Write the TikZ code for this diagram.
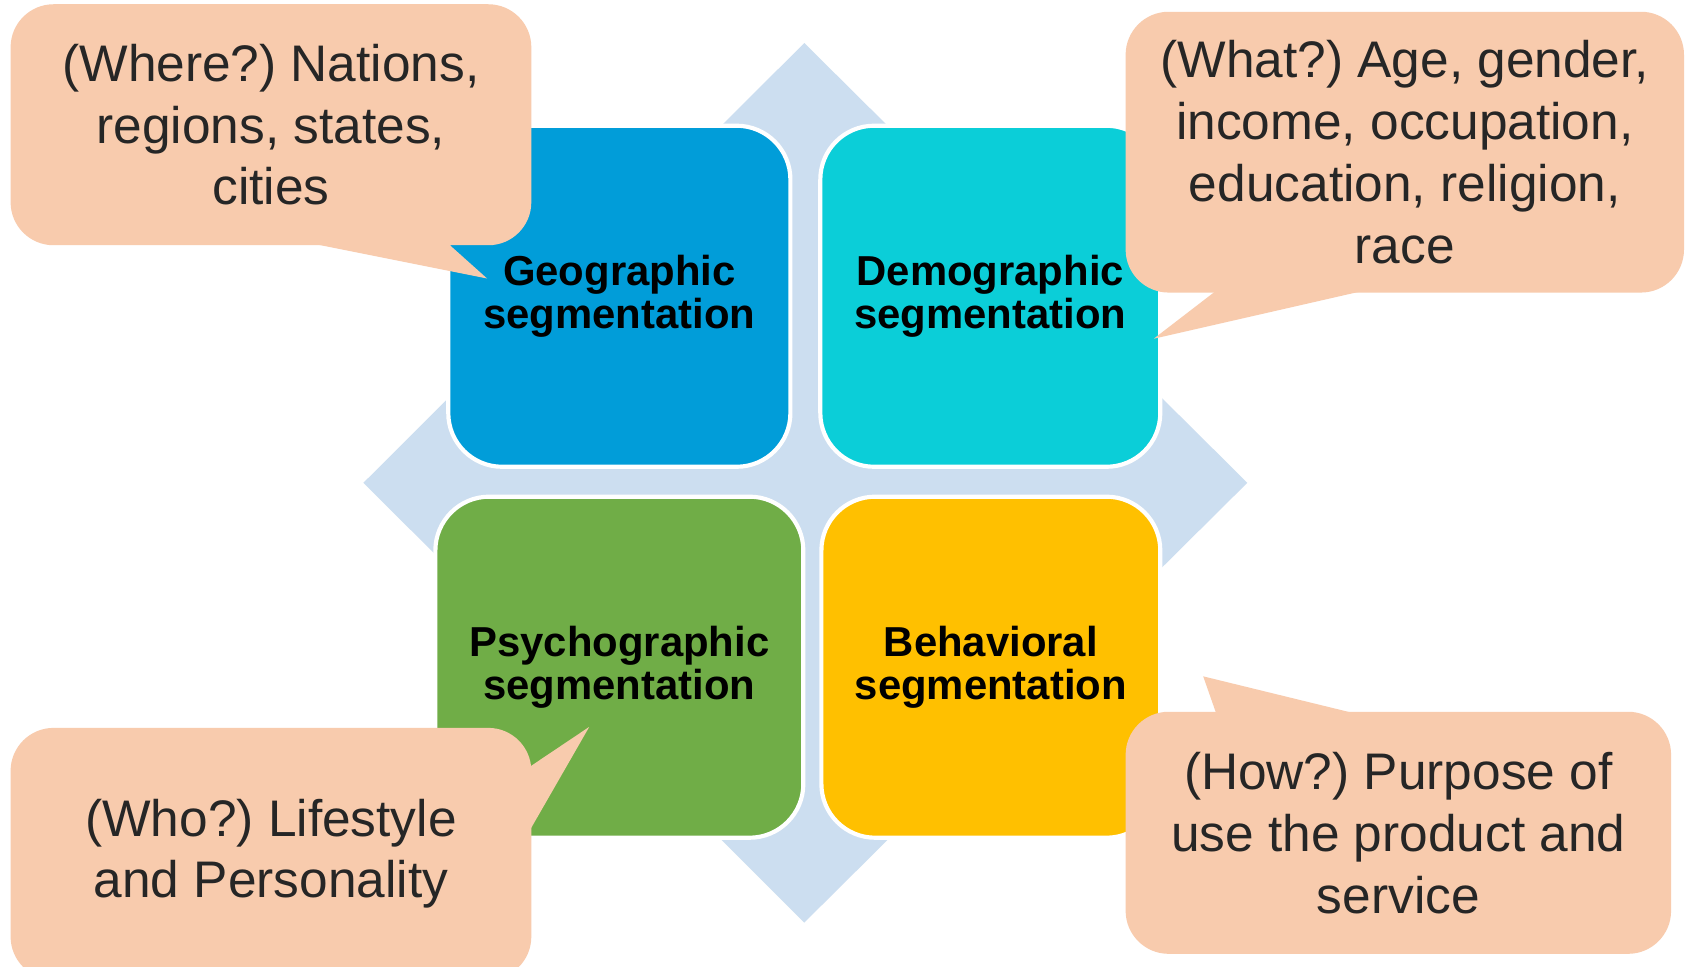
\documentclass[tikz,border=0pt]{standalone}
\usepackage{fontspec}
\setmainfont{Liberation Sans}
\usetikzlibrary{calc}
\definecolor{geoblue}{HTML}{019DD9}
\definecolor{democyan}{HTML}{0BCED8}
\definecolor{psygreen}{HTML}{70AD47}
\definecolor{behyellow}{HTML}{FFC000}
\definecolor{hubblue}{HTML}{CCDEF0}
\definecolor{peach}{HTML}{F8CBAD}
\definecolor{ink}{HTML}{262626}
\frenchspacing
\tikzset{
  seg/.style={rectangle, rounded corners=0.5cm, draw=white, line width=1.1pt,
    minimum height=3.17cm, inner sep=0pt, align=center, text=black,
    font=\fontsize{11.07}{11.4}\selectfont\bfseries},
  bubble/.style={rectangle, rounded corners=0.4cm, fill=peach, inner sep=0pt,
    align=center, text=ink, font=\fontsize{13.6}{16.36}\selectfont},
}

\begin{document}
\begin{tikzpicture}[x=0.01cm,y=-0.01cm]
\useasboundingbox (0,0) rectangle (1568,899);
\fill[white] (0,0) rectangle (1568,899);
% Background diamond
\fill[hubblue] (748,40) -- (1160,449) -- (748,858) -- (338,449) -- cycle;

% Four segments
\node[seg, fill=geoblue, minimum width=3.18cm] (geo) at (576,275.5) {Geographic\\segmentation};
\node[seg, fill=democyan, minimum width=3.16cm] (demo) at (921,275.5) {Demographic\\segmentation};
\node[seg, fill=psygreen, minimum width=3.42cm] (psycho) at (576,620.5) {Psychographic\\segmentation};
\node[seg, fill=behyellow, minimum width=3.15cm] (behav) at (921.5,620.5) {Behavioral\\segmentation};

% Callouts
\node[bubble, minimum width=4.84cm, minimum height=2.24cm] (where) at (252,116) {(Where?) Nations,\\regions, states,\\cities};
\node[bubble, minimum width=5.19cm, minimum height=2.61cm] (what) at (1306.5,141.5) {(What?) Age, gender,\\income, occupation,\\education, religion,\\race};
\node[bubble, minimum width=4.84cm, minimum height=2.34cm] (who) at (252,794) {(Who?) Lifestyle\\and Personality};
\node[bubble, minimum width=5.07cm, minimum height=2.25cm] (how) at (1300.5,774.5) {(How?) Purpose of\\use the product and\\service};

% Callout tails
\coordinate (where tip) at (453,259);
\fill[peach] ($(where.south)+(40,-2)$) -- (where tip) -- ($(where.south)+(165,-2)$) -- cycle;
\coordinate (what tip) at (1073,315);
\fill[peach] ($(what.south)+(-176,-2)$) -- (what tip) -- ($(what.south)+(-40,-2)$) -- cycle;
\coordinate (who tip) at (548,676);
\fill[peach] ($(who.east)+(-2,-81)$) -- (who tip) -- ($(who.east)+(-2,-22)$) -- cycle;
\coordinate (how tip) at (1119,629);
\fill[peach] ($(how.north)+(-169.5,2)$) -- (how tip) -- ($(how.north)+(-41.5,2)$) -- cycle;
\end{tikzpicture}
\end{document}
